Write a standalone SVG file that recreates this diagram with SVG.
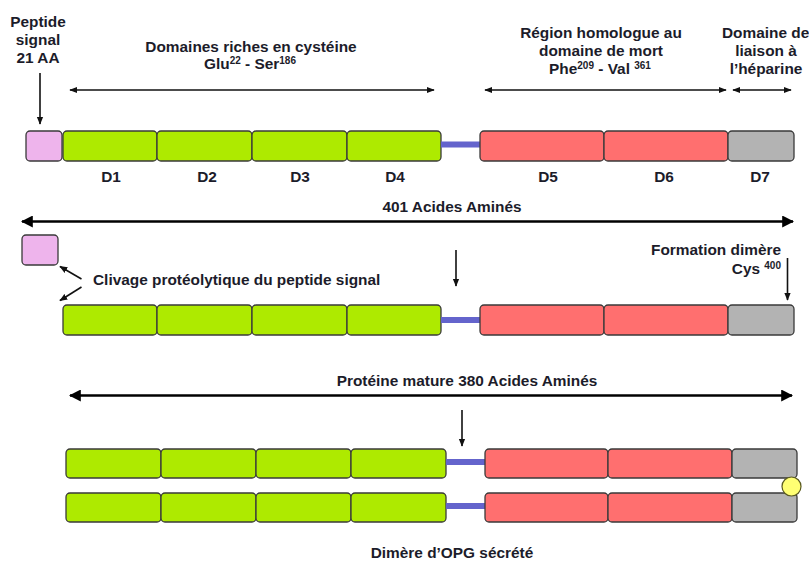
<svg xmlns="http://www.w3.org/2000/svg" width="809" height="562" viewBox="0 0 809 562">
<defs>
<style>
text{font-family:"Liberation Sans",Arial,sans-serif;font-weight:bold;font-size:15.4px;fill:#1c1c2a}
.m{text-anchor:middle}
.e{text-anchor:end}
.sup{font-size:10px}
.g{fill:#aeea00;stroke:#3a3a3a;stroke-width:1.3}
.r{fill:#ff6f6f;stroke:#3a3a3a;stroke-width:1.3}
.gr{fill:#b3b3b3;stroke:#3a3a3a;stroke-width:1.3}
.p{fill:#eeb4ec;stroke:#3a3a3a;stroke-width:1.3}
.lk{stroke:#6464cc;stroke-width:6}
.a{stroke:#111;stroke-width:1.6;fill:none}
.ab{stroke:#000;stroke-width:2.5;fill:none}
</style>
<marker id="ah" viewBox="0 0 10 10" refX="9" refY="5" markerWidth="8" markerHeight="8" orient="auto-start-reverse" markerUnits="userSpaceOnUse"><path d="M0,1 L10,5 L0,9 z" fill="#111"/></marker>
<marker id="ahb" viewBox="0 0 10 10" refX="9" refY="5" markerWidth="12" markerHeight="12" orient="auto-start-reverse" markerUnits="userSpaceOnUse"><path d="M0,0 L10,5 L0,10 z" fill="#000"/></marker>
</defs>

<!-- Labels top -->
<g id="lbl-peptide">
<text class="m" x="38" y="27">Peptide</text>
<text class="m" x="38" y="45">signal</text>
<text class="m" x="38" y="63">21 AA</text>
</g>
<g id="lbl-riches">
<text class="m" x="251" y="52">Domaines riches en cystéine</text>
<text class="m" x="250" y="69">Glu<tspan class="sup" dy="-5">22</tspan><tspan dy="5"> - Ser</tspan><tspan class="sup" dy="-5">186</tspan></text>
</g>
<g id="lbl-mort">
<text class="m" x="601" y="38">Région homologue au</text>
<text class="m" x="601" y="56">domaine de mort</text>
<text class="m" x="600" y="74">Phe<tspan class="sup" dy="-5">209</tspan><tspan dy="5"> - Val </tspan><tspan class="sup" dy="-5">361</tspan></text>
</g>
<g id="lbl-heparine">
<text x="722" y="38">Domaine de</text>
<text class="m" x="766" y="56">liaison à</text>
<text class="m" x="766" y="74">l’héparine</text>
</g>

<!-- Row 1 -->
<g id="row1">
<rect class="p" x="26" y="131" width="36" height="30" rx="4"/>
<rect class="g" x="63" y="131" width="94" height="30" rx="4"/>
<rect class="g" x="157" y="131" width="95" height="30" rx="4"/>
<rect class="g" x="252" y="131" width="95" height="30" rx="4"/>
<rect class="g" x="347" y="131" width="94" height="30" rx="4"/>
<line class="lk" x1="441" y1="144.5" x2="480" y2="144.5"/>
<rect class="r" x="480" y="131" width="124" height="30" rx="4"/>
<rect class="r" x="604" y="131" width="124" height="30" rx="4"/>
<rect class="gr" x="728" y="131" width="66" height="30" rx="4"/>
<text class="m" x="111" y="182">D1</text>
<text class="m" x="207" y="182">D2</text>
<text class="m" x="300" y="182">D3</text>
<text class="m" x="395" y="182">D4</text>
<text class="m" x="548" y="182">D5</text>
<text class="m" x="664" y="182">D6</text>
<text class="m" x="760" y="182">D7</text>
</g>

<g id="lbl-401"><text class="m" x="452" y="212">401 Acides Aminés</text></g>

<!-- Row 2 -->
<g id="row2-signal"><rect class="p" x="22" y="235" width="36" height="30" rx="4"/></g>
<g id="lbl-clivage"><text x="93" y="285">Clivage protéolytique du peptide signal</text></g>
<g id="lbl-dimere">
<text class="e" x="781" y="255">Formation dimère</text>
<text class="e" x="781" y="274">Cys <tspan class="sup" dy="-5">400</tspan></text>
</g>
<g id="row2">
<rect class="g" x="63" y="305" width="94" height="30" rx="4"/>
<rect class="g" x="157" y="305" width="95" height="30" rx="4"/>
<rect class="g" x="252" y="305" width="95" height="30" rx="4"/>
<rect class="g" x="347" y="305" width="94" height="30" rx="4"/>
<line class="lk" x1="441" y1="320" x2="480" y2="320"/>
<rect class="r" x="480" y="305" width="124" height="30" rx="4"/>
<rect class="r" x="604" y="305" width="124" height="30" rx="4"/>
<rect class="gr" x="728" y="305" width="66" height="30" rx="4"/>
</g>

<g id="lbl-380"><text class="m" x="467" y="386">Protéine mature 380 Acides Aminés</text></g>

<!-- Row 3 dimer -->
<g id="dimer-top">
<rect class="g" x="66" y="449" width="95" height="29" rx="4"/>
<rect class="g" x="161" y="449" width="95" height="29" rx="4"/>
<rect class="g" x="256" y="449" width="95" height="29" rx="4"/>
<rect class="g" x="351" y="449" width="95" height="29" rx="4"/>
<line class="lk" x1="446" y1="462" x2="485" y2="462"/>
<rect class="r" x="485" y="449" width="123" height="29" rx="4"/>
<rect class="r" x="608" y="449" width="124" height="29" rx="4"/>
<rect class="gr" x="732" y="449" width="65" height="29" rx="4"/>
</g>
<g id="dimer-bottom">
<rect class="g" x="66" y="493" width="95" height="29" rx="4"/>
<rect class="g" x="161" y="493" width="95" height="29" rx="4"/>
<rect class="g" x="256" y="493" width="95" height="29" rx="4"/>
<rect class="g" x="351" y="493" width="95" height="29" rx="4"/>
<line class="lk" x1="446" y1="506" x2="485" y2="506"/>
<rect class="r" x="485" y="493" width="123" height="29" rx="4"/>
<rect class="r" x="608" y="493" width="124" height="29" rx="4"/>
<rect class="gr" x="732" y="493" width="65" height="29" rx="4"/>
</g>
<g id="disulfide"><circle cx="791.5" cy="486.5" r="9.5" fill="#ffff73" stroke="#5a5a20" stroke-width="1.2"/></g>
<g id="lbl-opg"><text class="m" x="452" y="558">Dimère d’OPG sécrété</text></g>

<!-- Connectors -->
<g id="connectors">
<line class="a" x1="40" y1="73" x2="40" y2="124" marker-end="url(#ah)"/>
<line class="a" x1="70" y1="90" x2="434" y2="90" marker-start="url(#ah)" marker-end="url(#ah)"/>
<line class="a" x1="485" y1="90" x2="726" y2="90" marker-start="url(#ah)" marker-end="url(#ah)"/>
<line class="a" x1="733" y1="90" x2="791" y2="90" marker-start="url(#ah)" marker-end="url(#ah)"/>
<line class="ab" x1="22" y1="221.5" x2="793" y2="221.5" marker-start="url(#ahb)" marker-end="url(#ahb)"/>
<line class="a" x1="81.5" y1="279" x2="60" y2="266.5" marker-end="url(#ah)"/>
<line class="a" x1="81.5" y1="287" x2="60" y2="300.5" marker-end="url(#ah)"/>
<line class="a" x1="456" y1="250" x2="456" y2="286" stroke-width="1.3" marker-end="url(#ah)"/>
<line class="a" x1="787.5" y1="258" x2="787.5" y2="300" stroke-width="1.3" marker-end="url(#ah)"/>
<line class="ab" x1="70" y1="395.5" x2="792" y2="395.5" marker-start="url(#ahb)" marker-end="url(#ahb)"/>
<line class="a" x1="462" y1="410" x2="462" y2="446" stroke-width="1.3" marker-end="url(#ah)"/>
</g>
</svg>
